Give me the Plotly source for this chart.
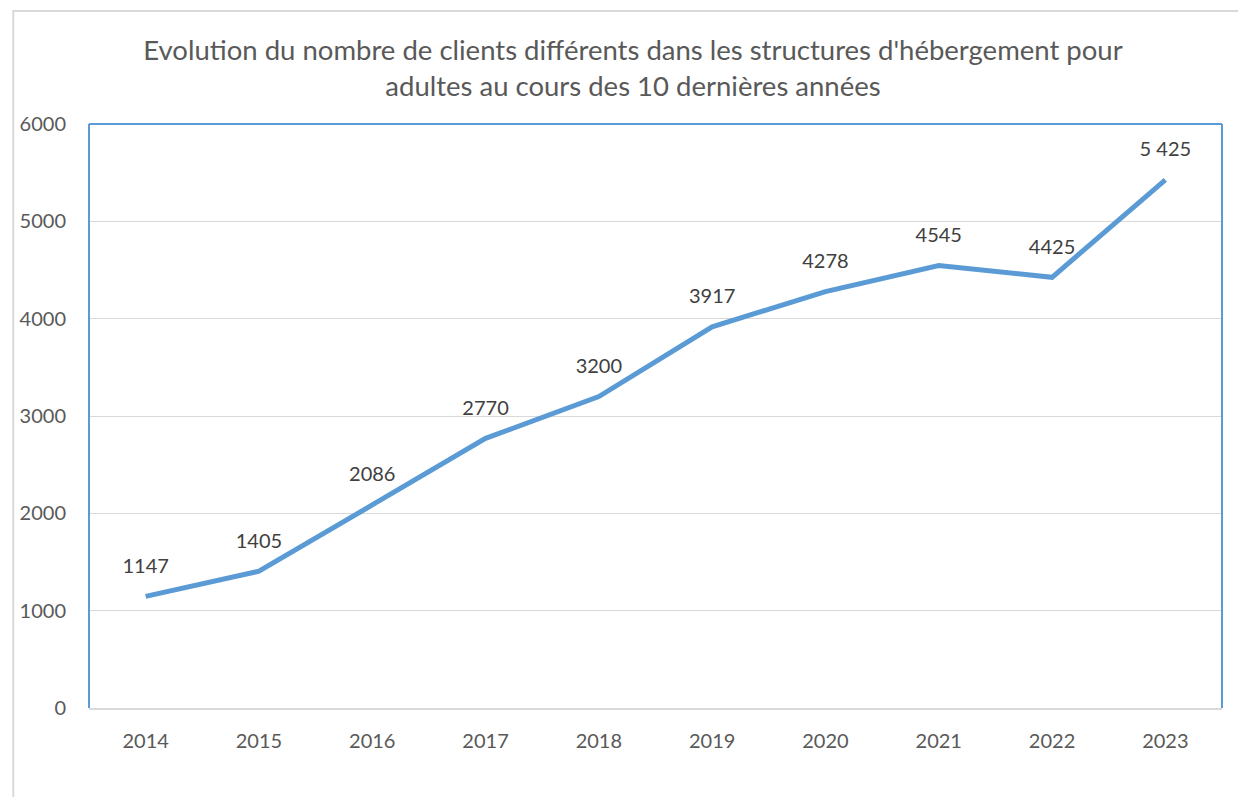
import plotly.graph_objects as go

years = ["2014", "2015", "2016", "2017", "2018", "2019", "2020", "2021", "2022", "2023"]
clients = [1147, 1405, 2086, 2770, 3200, 3917, 4278, 4545, 4425, 5425]
labels = ["1147", "1405", "2086", "2770", "3200", "3917", "4278", "4545", "4425", "5 425"]
y_ticks = [0, 1000, 2000, 3000, 4000, 5000, 6000]

# the page has an 8px body margin, so figure coords = screen coords - 8
OFF = 8
W, H = 1246, 797
L, R, T, B = 85 - OFF, 1222 - OFF, 124 - OFF, 708 - OFF
FONT = "Lato"
BLUE = "#5B9BD5"

fig = go.Figure()
fig.add_trace(go.Scatter(
    x=years, y=clients, mode="lines+markers+text",
    line=dict(color=BLUE, width=5),
    marker=dict(size=28, color="rgba(0,0,0,0)"),
    text=labels, textposition="top center",
    textfont=dict(family=FONT, size=20, color="#404040"),
    cliponaxis=False,
    hoverinfo="skip", showlegend=False,
))

fig.update_layout(
    width=W, height=H,
    margin=dict(l=L, r=W - R, t=T, b=H - B, pad=0),
    paper_bgcolor="white", plot_bgcolor="white",
    title=dict(
        text="Evolution du nombre de clients différents dans les structures d'hébergement pour<br>adultes au cours des 10 dernières années",
        x=(633 - OFF) / W, xref="container", xanchor="center",
        y=1 - (60 - OFF) / H, yref="container", yanchor="middle",
        font=dict(family=FONT, size=27.5, color="#595959"),
    ),
    xaxis=dict(
        type="category", range=[-0.5, 9.5],
        showgrid=False, showline=True, linecolor="#D9D9D9", linewidth=2,
        ticks="", tickfont=dict(family=FONT, size=20, color="#595959"),
        ticklabelstandoff=14, fixedrange=True,
    ),
    yaxis=dict(
        range=[0, 6000], tickvals=y_ticks, ticktext=[str(v) for v in y_ticks],
        showgrid=True, gridcolor="#D9D9D9", gridwidth=1,
        zeroline=False, showline=False, ticks="",
        tickfont=dict(family=FONT, size=20, color="#595959"),
        ticklabelstandoff=22, fixedrange=True,
    ),
    shapes=[
        # outer chart border
        dict(type="rect", xref="paper", yref="paper",
             x0=(9 - OFF - L) / (R - L), x1=(W + 40 - L) / (R - L),
             y0=(B - (H + 40)) / (B - T), y1=(B - (11 - OFF)) / (B - T),
             line=dict(color="#D9D9D9", width=2), layer="below"),
        # plot-area border (left, top, right)
        dict(type="line", xref="paper", yref="paper", x0=0, x1=0, y0=0, y1=1,
             line=dict(color=BLUE, width=2)),
        dict(type="line", xref="paper", yref="paper", x0=0, x1=1, y0=1, y1=1,
             line=dict(color=BLUE, width=2)),
        dict(type="line", xref="paper", yref="paper", x0=1, x1=1, y0=0, y1=1,
             line=dict(color=BLUE, width=2)),
    ],
)

fig.write_html("out.html")
